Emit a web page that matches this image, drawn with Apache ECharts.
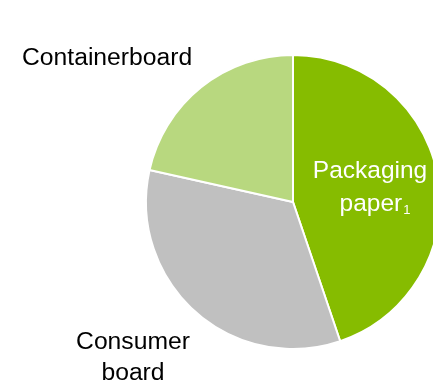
<!DOCTYPE html>
<html><head><meta charset="utf-8">
<script src="https://cdn.jsdelivr.net/npm/echarts@6/dist/echarts.min.js"></script>
<style>html,body{margin:0;padding:0;background:#fff}#c{width:433px;height:386px}</style>
</head><body><div id="c"></div>
<script>
const categories = ['Packaging paper', 'Consumer board', 'Containerboard'];
const values = [44.8, 33.7, 21.5];
const colors = ['#86BC00', '#C0C0C0', '#B8D87F'];

const chart = echarts.init(document.getElementById('c'), null, {renderer: 'canvas'});
const ff = 'Arial, "Liberation Sans", sans-serif';
chart.setOption({
  animation: false,
  series: [{
    type: 'pie',
    center: [293, 202],
    radius: 147,
    startAngle: 90,
    clockwise: true,
    label: {show: false},
    labelLine: {show: false},
    itemStyle: {borderColor: '#fff', borderWidth: 2},
    data: categories.map((c, i) => ({name: c, value: values[i], itemStyle: {color: colors[i]}}))
  }],
  graphic: [
    {type: 'text', z: 100, left: 22, top: 46, style: {text: 'Containerboard', fontSize: 24.7, fontFamily: ff, fill: '#000'}},
    {type: 'text', z: 100, x: 133, y: 358, style: {text: 'Consumer\nboard', fontSize: 24.7, fontFamily: ff, fill: '#000', align: 'center', verticalAlign: 'middle', lineHeight: 31}},
    {type: 'text', z: 100, x: 370, y: 171, style: {text: 'Packaging', fontSize: 24.5, fontFamily: ff, fill: '#fff', align: 'center', verticalAlign: 'middle'}},
    {type: 'text', z: 100, x: 375, y: 204, style: {text: '{a|paper}{b|1}', fill: '#fff', align: 'center', verticalAlign: 'middle',
      rich: {a: {fontSize: 24.5, fontFamily: ff, fill: '#fff'}, b: {fontSize: 13, fontFamily: ff, fill: '#fff', verticalAlign: 'bottom', padding: [9,0,0,1]}}}}
  ]
});
</script></body></html>
